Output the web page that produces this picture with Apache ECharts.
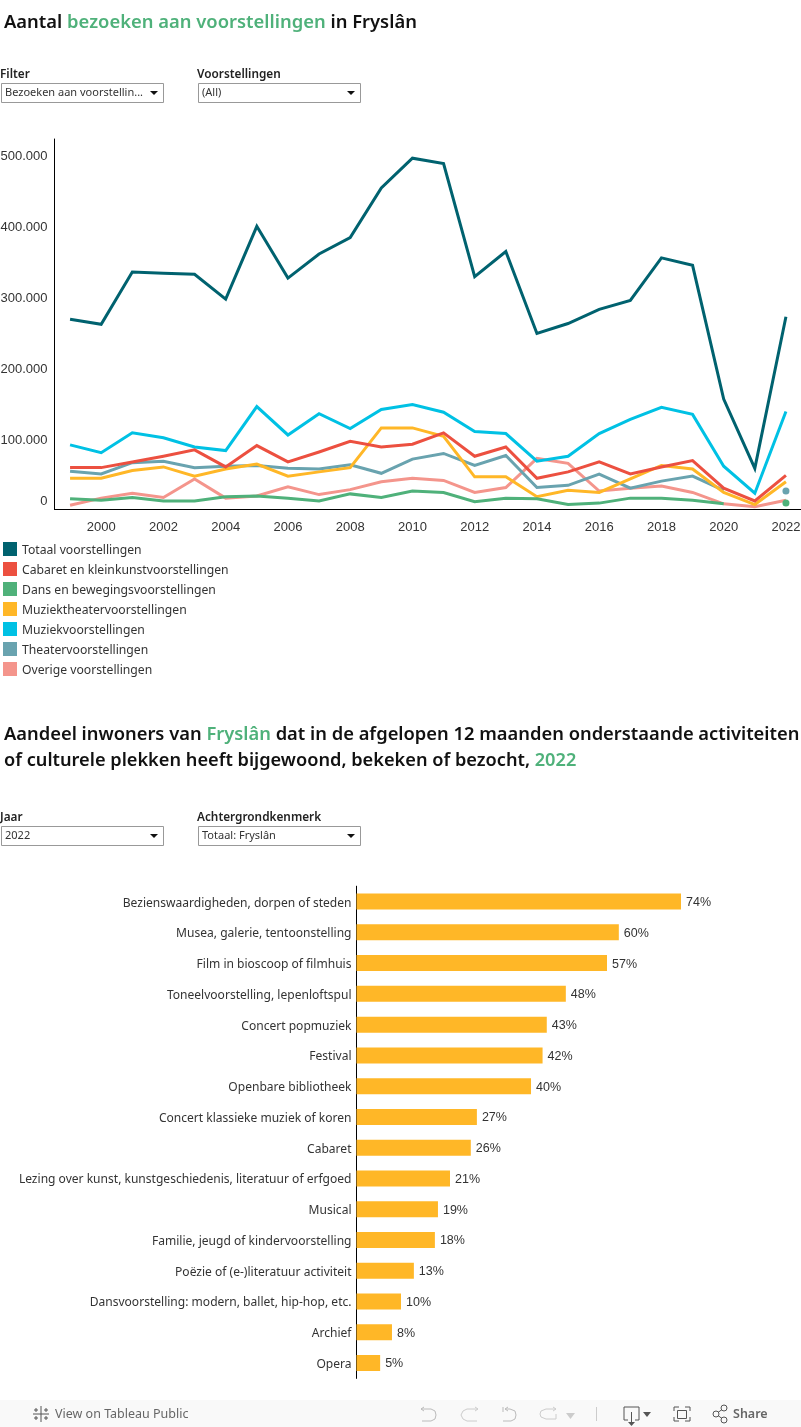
<!DOCTYPE html>
<html><head><meta charset="utf-8">
<style>html,body{margin:0;padding:0;background:#fff}#c{width:801px;height:1427px}</style>
<script src="https://cdn.jsdelivr.net/npm/echarts@6/dist/echarts.min.js"></script>
</head><body><div id="c"></div>
<script>
const years=[1999,2000,2001,2002,2003,2004,2005,2006,2007,2008,2009,2010,2011,2012,2013,2014,2015,2016,2017,2018,2019,2020,2021,2022];
const totaal=[268000,261000,334500,333000,331500,296500,399000,326000,360000,383000,453000,495000,487500,328000,363500,248000,262000,282000,294500,354500,344000,155500,58000,271500];
const cabaret=[59000,59000,67000,75000,84000,60000,90000,67000,81000,96000,88000,92000,108000,75000,88000,44000,53000,67000,50000,60000,69000,30000,12000,48000];
const dans=[15000,13000,17000,12000,12000,18000,19000,16000,12000,22000,17000,26000,24000,11000,16000,15000,7000,9000,16000,16000,13000,8000,null,9000];
const muziektheater=[44000,44000,55000,60000,47000,57000,64000,47000,53000,59000,115000,115000,103000,46000,46000,18000,27000,24000,43000,62000,57000,24000,7000,39000];
const muziek=[91000,80000,108000,101000,88000,83000,145000,105000,135000,114000,141000,148000,137000,110000,107000,68000,75000,107000,127000,144000,134000,61000,23000,138000];
const theater=[54000,50000,66000,68000,59000,61000,62000,58000,57000,63000,51000,71000,79000,62000,76000,31000,34000,50000,30000,40000,47000,27000,null,26000];
const overige=[6000,16000,23000,17000,43000,16000,19000,32000,21000,28000,39000,44000,41000,24000,31000,72000,65000,26000,30000,33000,24000,8000,4000,13000];
const legendNames=['Totaal voorstellingen','Cabaret en kleinkunstvoorstellingen','Dans en bewegingsvoorstellingen','Muziektheatervoorstellingen','Muziekvoorstellingen','Theatervoorstellingen','Overige voorstellingen'];
const activiteiten=['Bezienswaardigheden, dorpen of steden','Musea, galerie, tentoonstelling','Film in bioscoop of filmhuis','Toneelvoorstelling, lepenloftspul','Concert popmuziek','Festival','Openbare bibliotheek','Concert klassieke muziek of koren','Cabaret','Lezing over kunst, kunstgeschiedenis, literatuur of erfgoed','Musical','Familie, jeugd of kindervoorstelling','Poëzie of (e-)literatuur activiteit','Dansvoorstelling: modern, ballet, hip-hop, etc.','Archief','Opera'];
const aandeel=[74.1,59.9,57.2,47.8,43.45,42.49,39.85,27.49,26.1,21.35,18.6,17.9,13.1,10.16,8.1,5.4];

const C={tot:'#00626f',cab:'#ec5040',dans:'#4fb17a',mt:'#ffb727',muz:'#00c1e4',th:'#69a3af',ov:'#f4958c'};
const UI='"Noto Sans",sans-serif', NUM='"Liberation Sans",sans-serif';
const line=(name,data,color,w,dotted)=>({type:'line',name,data,xAxisIndex:0,yAxisIndex:0,color,
  itemStyle:{color},lineStyle:{color,width:w,join:'miter'},
  showSymbol:!!dotted,showAllSymbol:!!dotted,
  symbol:dotted?((v,p)=>p.dataIndex===23?'circle':'none'):'none',symbolSize:7,
  clip:false,silent:true,animation:false,connectNulls:false});

function txt(x,y,text,o){return {type:'text',x,y,silent:true,style:Object.assign({text,fill:'#1a1a1a',font:'11px '+UI,verticalAlign:'middle'},o||{})};}
function dropdown(x,y,w,label,val){return [
  txt(x-1,y-8,label,{font:'600 11.8px '+UI,fill:'#222'}),
  {type:'rect',shape:{x:x+.5,y:y+.5,width:w,height:19},style:{fill:'#fff',stroke:'#999',lineWidth:1},silent:true},
  txt(x+4,y+10,val,{font:'11px '+UI,fill:'#333'}),
  {type:'polygon',shape:{points:[[x+w-13,y+8],[x+w-5,y+8],[x+w-9,y+12]]},style:{fill:'#111'},silent:true}
];}
function stroke(points,c){return {type:'polyline',shape:{points},style:{fill:'none',stroke:c,lineWidth:1},silent:true};}
function dot(cx,cy){return {type:'circle',shape:{cx,cy,r:3},style:{fill:'#f9f9f9',stroke:'#555'},silent:true};}

const graphics=[
  ...dropdown(1,83,162,'Filter','Bezoeken aan voorstellin...'),
  ...dropdown(198,83,162,'Voorstellingen','(All)'),
  ...dropdown(1,826,162,'Jaar','2022'),
  ...dropdown(198,826,162,'Achtergrondkenmerk','Totaal: Fryslân'),
  {type:'rect',shape:{x:0,y:1400,width:801,height:27},style:{fill:'#f9f9f9'},silent:true},
  txt(55,1414,'View on Tableau Public',{font:'12.5px '+UI,fill:'#666'}),
  txt(733,1414,'Share',{font:'600 12.5px '+UI,fill:'#666'}),
  stroke([[41,1406],[41,1422]],'#555'),stroke([[33,1414],[49,1414]],'#555'),
  stroke([[36,1408],[36,1412]],'#555'),stroke([[34,1410],[38,1410]],'#555'),
  stroke([[46,1408],[46,1412]],'#555'),stroke([[44,1410],[48,1410]],'#555'),
  stroke([[36,1416],[36,1420]],'#555'),stroke([[34,1418],[38,1418]],'#555'),
  stroke([[46,1416],[46,1420]],'#555'),stroke([[44,1418],[48,1418]],'#555'),
  stroke([[424,1407],[421,1409],[424,1411]],'#bbb'),
  stroke([[421,1409],[431,1409],[435,1411],[436,1415],[435,1419],[431,1421],[422,1421]],'#bbb'),
  stroke([[475,1407],[478,1409],[475,1411]],'#ccc'),
  stroke([[478,1409],[467,1409],[463,1411],[461,1415],[463,1419],[467,1421],[477,1421]],'#ccc'),
  stroke([[503,1407],[503,1412]],'#bbb'),stroke([[508,1407],[505,1409],[508,1411]],'#bbb'),
  stroke([[505,1409],[510,1409],[515,1411],[516,1415],[515,1419],[511,1421],[503,1421]],'#bbb'),
  stroke([[553,1407],[556,1409],[553,1411]],'#ccc'),
  stroke([[556,1409],[546,1409],[541,1411],[540,1414],[541,1417],[546,1419],[556,1419],[556,1414]],'#ccc'),
  {type:'polygon',shape:{points:[[566,1413],[575,1413],[570.500,1419]]},style:{fill:'#ccc'},silent:true},
  {type:'rect',shape:{x:596,y:1407,width:1,height:14},style:{fill:'#ccc'},silent:true},
  stroke([[628,1420],[624,1420],[624,1407],[639,1407],[639,1420],[635,1420]],'#555'),
  stroke([[631.500,1412],[631.500,1423]],'#555'),
  {type:'polygon',shape:{points:[[628,1422],[635,1422],[631.500,1426]]},style:{fill:'#555'},silent:true},
  {type:'polygon',shape:{points:[[643,1412],[651,1412],[647,1417]]},style:{fill:'#555'},silent:true},
  stroke([[674,1411],[674,1407],[679,1407]],'#555'),stroke([[685,1407],[690,1407],[690,1411]],'#555'),
  stroke([[674,1417],[674,1421],[679,1421]],'#555'),stroke([[685,1421],[690,1421],[690,1417]],'#555'),
  {type:'rect',shape:{x:677.5,y:1410.5,width:9,height:8},style:{fill:'none',stroke:'#555'},silent:true},
  stroke([[716,1414],[724,1408]],'#555'),stroke([[716,1414],[724,1420]],'#555'),
  dot(716,1414),dot(724,1408),dot(724,1420)
];

const TF={fontFamily:UI,fontSize:18.4,fontWeight:600,color:'#111',lineHeight:26};
const T1=Object.assign({},TF,{fontSize:18.33}), T2=Object.assign({},TF,{fontSize:18.2});
const G=(s)=>Object.assign({},s,{color:C.dans});
const option={
  animation:false,backgroundColor:'#fff',
  title:[
    {left:4,top:10,padding:0,text:'{a|Aantal }{g|bezoeken aan voorstellingen}{a| in Fryslân}',
     textStyle:{rich:{a:TF,g:G(TF)}}},
    {left:4,top:722,padding:0,text:'{a|Aandeel inwoners van }{g|Fryslân}{a| dat in de afgelopen 12 maanden onderstaande activiteiten}\n{b|of culturele plekken heeft bijgewoond, bekeken of bezocht, }{h|2022}',
     textStyle:{rich:{a:T1,g:G(T1),b:T2,h:G(T2)}}}
  ],
  legend:{left:3,top:542,orient:'vertical',itemWidth:14,itemHeight:14,itemGap:5.5,icon:'rect',selectedMode:false,
    padding:0,data:legendNames,formatter:(n)=>'{n|'+n+'}',
    textStyle:{rich:{n:{fontFamily:UI,fontSize:12.2,color:'#333',padding:[3,0,0,0]}}}},
  grid:[
    {left:54.5,top:139,width:747,height:370.5,outerBoundsMode:'none'},
    {left:356.5,top:886.2,width:444.5,height:492.2,outerBoundsMode:'none'}
  ],
  xAxis:[
    {type:'category',gridIndex:0,data:years,boundaryGap:true,
     axisLine:{lineStyle:{color:'#000',width:1}},axisTick:{show:false},splitLine:{show:false},
     axisLabel:{interval:(i)=>i%2===1,margin:11,fontFamily:NUM,fontSize:13,color:'#333',hideOverlap:false}},
    {type:'value',gridIndex:1,min:0,max:101.5,show:false}
  ],
  yAxis:[
    {type:'value',gridIndex:0,min:0,max:522000,interval:100000,splitLine:{show:false},
     axisLine:{show:true,lineStyle:{color:'#000',width:1}},axisTick:{show:false},
     axisLabel:{margin:7,fontFamily:NUM,fontSize:13,color:'#333',showMaxLabel:false,
       verticalAlignMinLabel:'bottom',
       formatter:(v)=>v===0?'{z|0}':'{n|'+String(v).replace(/(\d)(?=(\d{3})+$)/g,'$1.')+'}',
       rich:{z:{fontFamily:NUM,fontSize:13,color:'#333',padding:[0,0,2,0]},
             n:{fontFamily:NUM,fontSize:13,color:'#333',padding:[3,0,0,0]}}}},
    {type:'category',gridIndex:1,data:activiteiten,inverse:true,
     axisLine:{show:true,lineStyle:{color:'#000',width:1}},axisTick:{show:false},splitLine:{show:false},
     axisLabel:{margin:5,interval:0,formatter:(n)=>'{n|'+n+'}',
       rich:{n:{fontFamily:UI,fontSize:12.05,color:'#333',padding:[3,0,0,0]}}}}
  ],
  series:[
    line(legendNames[6],overige,C.ov,3),
    line(legendNames[5],theater,C.th,3,true),
    line(legendNames[4],muziek,C.muz,3),
    line(legendNames[3],muziektheater,C.mt,3),
    line(legendNames[2],dans,C.dans,3,true),
    line(legendNames[1],cabaret,C.cab,3),
    line(legendNames[0],totaal,C.tot,3),
    {type:'bar',xAxisIndex:1,yAxisIndex:1,data:aandeel,barWidth:16,silent:true,animation:false,
     itemStyle:{color:C.mt},
     label:{show:true,position:'right',distance:5,formatter:(p)=>'{n|'+Math.round(p.value)+'%}',
       rich:{n:{fontFamily:NUM,fontSize:12.5,color:'#333',padding:[2,0,0,0]}}}}
  ],
  graphic:{elements:graphics}
};
const chart=echarts.init(document.getElementById('c'),null,{renderer:'canvas'});
chart.setOption(option);
</script></body></html>
